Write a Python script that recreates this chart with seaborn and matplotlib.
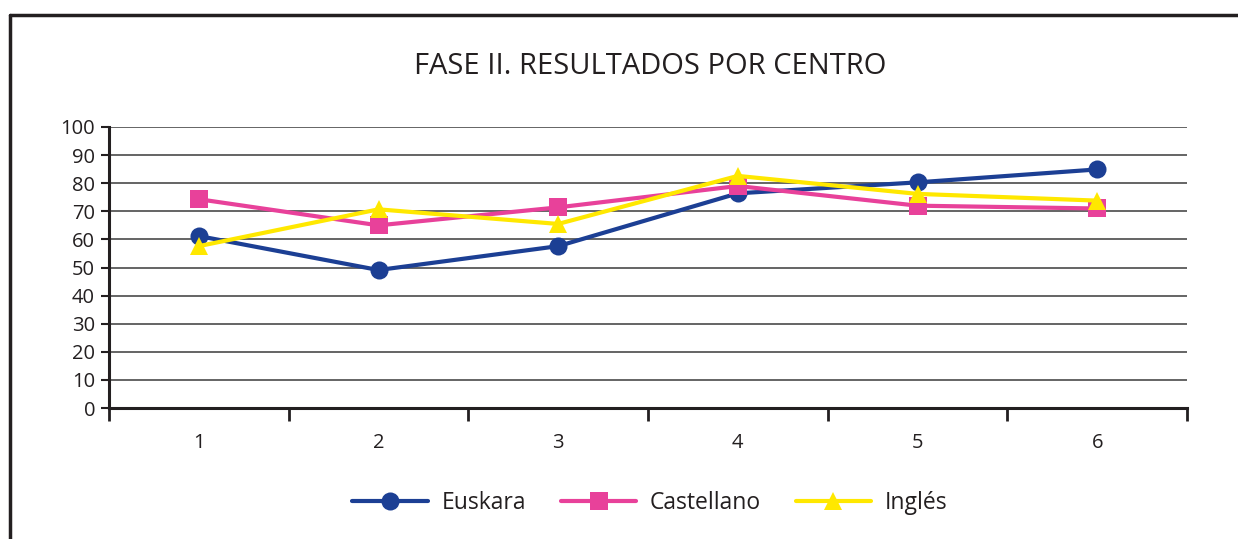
import numpy as np
import pandas as pd
import matplotlib
matplotlib.use('agg')
import matplotlib.pyplot as plt
import seaborn as sns
from matplotlib.lines import Line2D

# --- data

centros = ["1", "2", "3", "4", "5", "6"]
euskara = [61.2, 49.1, 57.6, 76.4, 80.3, 84.9]
castellano = [74.3, 65.0, 71.4, 79.0, 72.0, 71.0]
ingles = [57.6, 70.7, 65.5, 82.6, 76.2, 73.8]

series = ["Euskara", "Castellano", "Inglés"]
colores = ["#1C3F94", "#E8419A", "#FFE800"]
marcas = ["o", "s", "^"]

df = pd.DataFrame({
    "pos": list(range(len(centros))) * 3,
    "valor": euskara + castellano + ingles,
    "serie": [s for s in series for _ in centros],
})

sns.set_style("white")
plt.rcParams['font.family'] = ['Open Sans', 'DejaVu Sans']

fig = plt.figure(figsize=(12.38, 5.39), dpi=100)
ax = fig.add_axes([109/1238, 1 - 408/539, (1187-109)/1238, (408-127)/539])

# grid lines
for v in range(10, 101, 10):
    ax.axhline(v, color="#4a4a4a", lw=1.2, zorder=0)

sns.lineplot(data=df, x="pos", y="valor", hue="serie", style="serie",
             palette=colores, markers=marcas, dashes=False, lw=3,
             markersize=13, markeredgewidth=0, ax=ax, legend=False,
             hue_order=series, style_order=series)

ax.set_xlim(-0.5, len(centros) - 0.5)
ax.set_ylim(0, 100)
ax.set_yticks(range(0, 101, 10))
ax.set_yticklabels([str(v) for v in range(0, 101, 10)], fontsize=14.5, color="#231f20")
ax.set_xticks(range(len(centros)))
ax.set_xticklabels(centros, fontsize=14.5, color="#231f20")
ax.set_xticks(np.arange(-0.5, len(centros), 1.0), minor=True)
ax.tick_params(axis='x', which='both', bottom=True)
ax.tick_params(axis='x', which='major', length=0, pad=18)
ax.tick_params(axis='x', which='minor', length=9, width=2, color="#231f20", direction='out')
ax.tick_params(axis='y', left=True, length=6, width=1.5, color="#231f20", direction='out', pad=4)
ax.set_xlabel("")
ax.set_ylabel("")

for s in ['top', 'right']:
    ax.spines[s].set_visible(False)
for s in ['left', 'bottom']:
    ax.spines[s].set_linewidth(2.2)
    ax.spines[s].set_color("#231f20")

fig.text(650/1238, 1 - 66/539, "FASE II. RESULTADOS POR CENTRO",
         ha='center', va='center', fontsize=21, color="#231f20")

# legend
handles = [Line2D([0], [0], color=c, lw=3, marker=m, markersize=13,
                  markeredgewidth=0) for c, m in zip(colores, marcas)]
fig.legend(handles, series, loc='center', bbox_to_anchor=(650/1238, 1 - 503/539),
           ncol=3, frameon=False, fontsize=16.5, handlelength=3.3,
           columnspacing=1.5, handletextpad=0.6,
           labelcolor="#231f20")

# outer frame (top and left edges)
fig.add_artist(Line2D([10/1238, 1.0], [1 - 15/539, 1 - 15/539],
                      transform=fig.transFigure, color="#231f20", lw=2.5))
fig.add_artist(Line2D([10/1238, 10/1238], [0, 1 - 15/539],
                      transform=fig.transFigure, color="#231f20", lw=2.5))

plt.savefig("out.png", dpi=100)
